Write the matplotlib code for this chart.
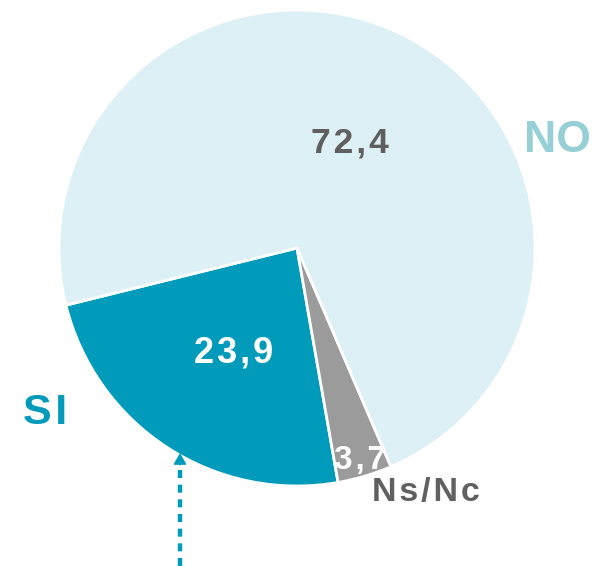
import matplotlib.pyplot as plt

# datos
labels = ['SI', 'Ns/Nc', 'NO']
values = [23.9, 3.7, 72.4]
value_txt = ['23,9', '3,7', '72,4']
colors = ['#009bbb', '#9b9b9b', '#ddf0f6']

plt.rcParams['font.family'] = ['Liberation Sans', 'DejaVu Sans']

fig = plt.figure(figsize=(5.94, 5.66), dpi=100)
ax = fig.add_axes([0, 0, 1, 1])

ax.pie(values, colors=colors, startangle=193.9, counterclock=True,
       center=(297, 318), radius=238,
       wedgeprops=dict(edgecolor='white', linewidth=2))

# pie() cambia los limites, se ponen despues
ax.set_xlim(0, 594)
ax.set_ylim(0, 566)
ax.set_aspect('equal')
ax.axis('off')


def spaced(s):
    return '\u200a'.join(s)


# valores
ax.text(234, 213, spaced(value_txt[0]), color='white', fontsize=26,
        fontweight='bold', ha='center', va='center')
ax.text(360, 106, spaced(value_txt[1]), color='white', fontsize=24,
        fontweight='bold', ha='center', va='center')
ax.text(350, 423, spaced(value_txt[2]), color='#5f5f5f', fontsize=25.5,
        fontweight='bold', ha='center', va='center')

# etiquetas
ax.text(45, 153, spaced(labels[0]), color='#009bbb', fontsize=31,
        fontweight='bold', ha='center', va='center')
ax.text(426, 73, spaced(labels[1]), color='#606060', fontsize=24.5,
        fontweight='bold', ha='center', va='center')
ax.text(557, 426, labels[2], color='#96d0d6', fontsize=32,
        fontweight='bold', ha='center', va='center')

# flecha punteada
ax.plot([180, 180], [0, 100], color='#009bbb', linewidth=3.2,
        linestyle=(0, (1.8, 1.5)), solid_capstyle='butt')
ax.annotate('', xy=(180, 113), xytext=(180, 101),
            arrowprops=dict(arrowstyle='-|>,head_length=0.7,head_width=0.4',
                            color='#009bbb', lw=1, shrinkA=0, shrinkB=0))

fig.savefig('out.png', dpi=100)
